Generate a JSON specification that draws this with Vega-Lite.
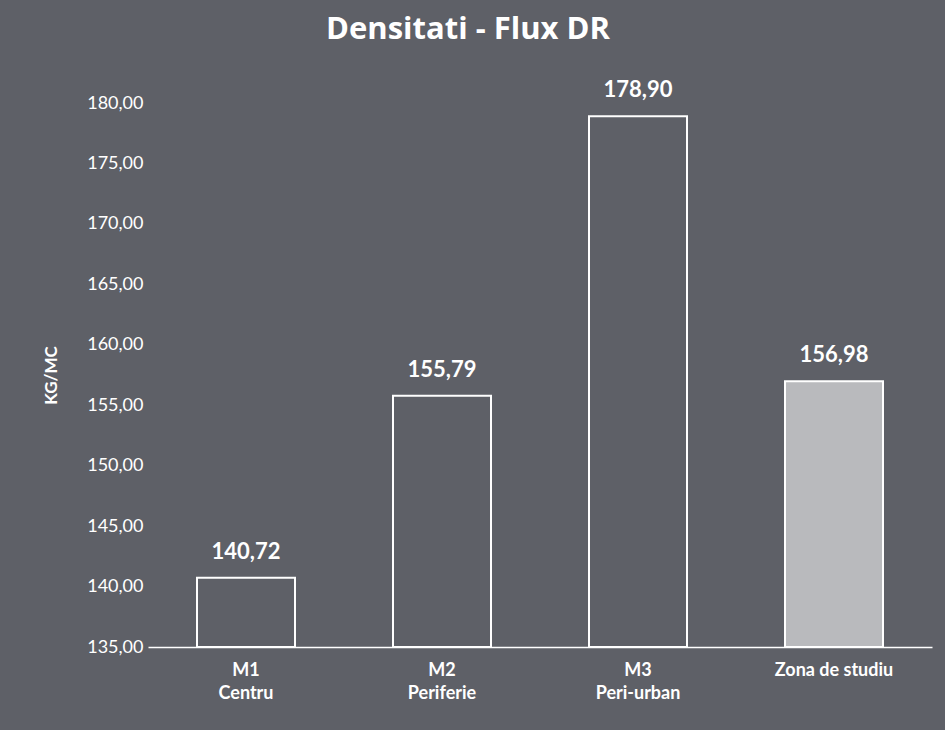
{
  "$schema": "https://vega.github.io/schema/vega-lite/v6.json",
  "autosize": "none",
  "width": 784,
  "height": 544,
  "padding": {"left": 148, "top": 103, "right": 13, "bottom": 83},
  "background": "#5e6067",
  "config": {
    "locale": {"number": {"decimal": ",", "thousands": ".", "grouping": [3], "currency": ["", " lei"]}},
    "view": {"stroke": null},
    "font": "Lato"
  },
  "title": {
    "text": "Densitati - Flux DR",
    "color": "white",
    "fontSize": 31,
    "font": "Open Sans",
    "fontWeight": "bold",
    "anchor": "middle",
    "dx": -72,
    "offset": 33
  },
  "data": {
    "values": [
      {"cat": "M1|Centru", "val": 140.72},
      {"cat": "M2|Periferie", "val": 155.79},
      {"cat": "M3|Peri-urban", "val": 178.90},
      {"cat": "Zona de studiu", "val": 156.98}
    ]
  },
  "encoding": {
    "x": {
      "field": "cat", "type": "nominal", "sort": null,
      "scale": {"paddingInner": 0.5, "paddingOuter": 0.25},
      "axis": {
        "title": null, "labelAngle": 0, "labelColor": "white", "labelFontSize": 18,
        "labelFontWeight": "bold", "labelPadding": 14, "labelLineHeight": 23,
        "labelExpr": "split(datum.label, '|')", "ticks": false,
        "domainColor": "white", "domainWidth": 1.5
      }
    },
    "y": {
      "field": "val", "type": "quantitative",
      "scale": {"domain": [135, 180], "zero": false, "nice": false},
      "axis": {
        "title": "KG/MC", "titleColor": "white", "titleFontSize": 17, "titleFontWeight": "bold",
        "titleX": -88, "titlePadding": 20,
        "values": [135, 140, 145, 150, 155, 160, 165, 170, 175, 180],
        "format": ".2f", "labelColor": "white", "labelFontSize": 18, "labelPadding": 5,
        "ticks": false, "domain": false, "grid": false
      }
    }
  },
  "layer": [
    {
      "mark": {"type": "bar", "stroke": "white", "strokeWidth": 2},
      "encoding": {
        "y2": {"datum": 135},
        "fill": {
          "condition": {"test": "datum.cat === 'Zona de studiu'", "value": "#b9babd"},
          "value": "#5e6067"
        }
      }
    },
    {
      "mark": {"type": "text", "baseline": "bottom", "dy": -14, "color": "white", "fontSize": 22, "fontWeight": "bold"},
      "encoding": {
        "text": {"field": "val", "type": "quantitative", "format": ".2f"}
      }
    }
  ]
}
